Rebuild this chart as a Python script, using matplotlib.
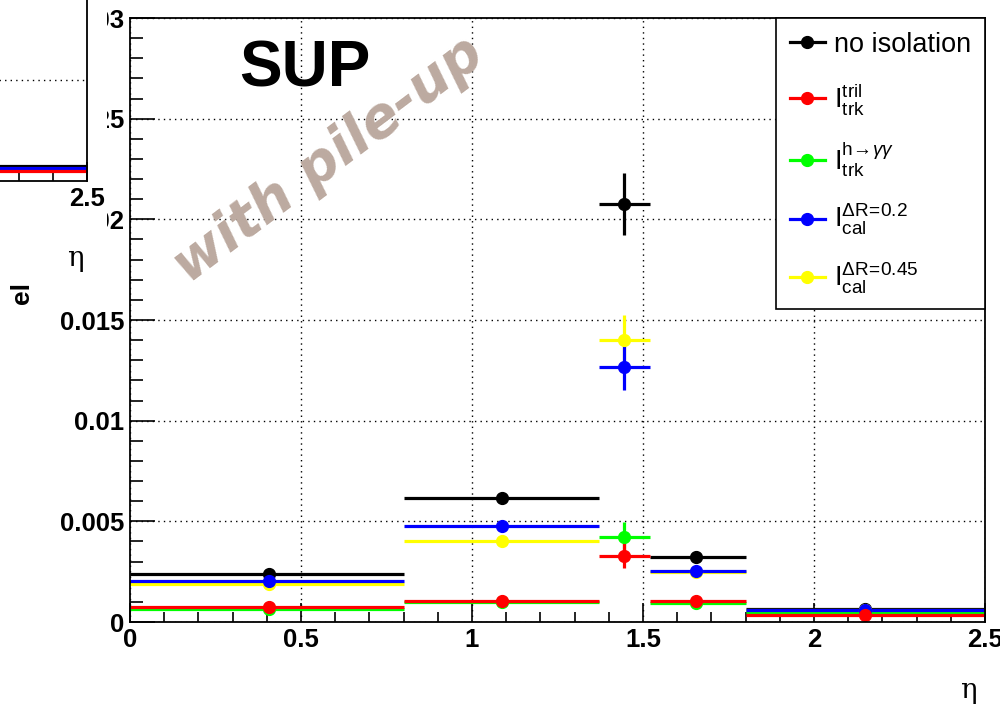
import matplotlib
matplotlib.use("Agg")
import matplotlib.pyplot as plt
from matplotlib.lines import Line2D
from matplotlib.patches import Rectangle
from matplotlib.ticker import MultipleLocator
import numpy as np

plt.rcParams['font.family'] = ['Liberation Sans', 'DejaVu Sans']
plt.rcParams['mathtext.fontset'] = 'custom'
plt.rcParams['mathtext.rm'] = 'Liberation Sans'
plt.rcParams['mathtext.it'] = 'Liberation Sans:italic'
plt.rcParams['mathtext.default'] = 'regular'

# eta bins and weighted mean eta per bin
bin_lo = np.array([0.0, 0.8, 1.37, 1.52, 1.8])
bin_hi = np.array([0.8, 1.37, 1.52, 1.8, 2.5])
eta_mean = np.array([0.405, 1.087, 1.444, 1.654, 2.148])

# rates per series
no_iso = [0.00236, 0.00616, 0.02076, 0.00324, 0.00065]
no_iso_err = [0.00018, 0.00012, 0.00155, 0.00030, 0.00005]
tril = [0.00076, 0.00104, 0.00330, 0.00104, 0.00037]
tril_err = [0.00015, 0.00010, 0.00060, 0.00010, 0.00005]
hgg = [0.00064, 0.00100, 0.00424, 0.00093, 0.00048]
hgg_err = [0.00015, 0.00010, 0.00075, 0.00010, 0.00005]
cal02 = [0.00204, 0.00477, 0.01267, 0.00255, 0.00062]
cal02_err = [0.00015, 0.00012, 0.00115, 0.00020, 0.00005]
cal045 = [0.00187, 0.00402, 0.01402, 0.00248, 0.00060]
cal045_err = [0.00018, 0.00012, 0.00125, 0.00020, 0.00005]

xticks = [0, 0.5, 1, 1.5, 2, 2.5]
xtick_labels = ['0', '0.5', '1', '1.5', '2', '2.5']
yticks = [0, 0.005, 0.01, 0.015, 0.02, 0.025, 0.03]
ytick_labels = ['0', '0.005', '0.01', '0.015', '0.02', '0.025', '0.03']

# the partly visible second plot (top-left corner), last bin only
inset_lo = [1.8]
inset_hi = [2.5]
inset_mean = [2.15]
inset_black = [0.00075]
inset_blue = [0.00067]
inset_red = [0.00050]

fig = plt.figure(figsize=(10, 7.12), dpi=100)
ax = fig.add_axes([0.13, 1 - 622/712, 0.855, 604/712], zorder=0)

series = [
    (no_iso, no_iso_err, 'black'),
    (cal045, cal045_err, '#ffff00'),
    (hgg, hgg_err, '#00ff00'),
    (cal02, cal02_err, '#0000ff'),
    (tril, tril_err, '#ff0000'),
]
for vals, errs, col in series:
    ax.errorbar(eta_mean, vals, xerr=[eta_mean - bin_lo, bin_hi - eta_mean], yerr=errs,
                fmt='o', color=col, ms=8.5, lw=2.3, capsize=0)

ax.set_xlim(0, 2.5)
ax.set_ylim(0, 0.03)
ax.set_xticks(xticks)
ax.set_xticklabels(xtick_labels)
ax.set_yticks(yticks)
ax.set_yticklabels(ytick_labels)
ax.xaxis.set_minor_locator(MultipleLocator(0.1))
ax.yaxis.set_minor_locator(MultipleLocator(0.001))
ax.tick_params(axis='both', which='both', direction='in', top=False, right=False,
               labelsize=18.5, width=1.2, pad=4)
ax.tick_params(axis='y', which='major', length=18)
ax.tick_params(axis='y', which='minor', length=9.5)
ax.tick_params(axis='x', which='major', length=14)
ax.tick_params(axis='x', which='minor', length=7.5)
for lab in ax.get_xticklabels() + ax.get_yticklabels():
    lab.set_fontweight('bold')
ax.grid(True, which='major', color='black', ls=(0, (1, 3)), lw=1)
for sp in ax.spines.values():
    sp.set_linewidth(1.3)

ax.text(1 - 17/855, -68/604, 'η', transform=ax.transAxes, ha='center', va='center',
        fontsize=20, family='DejaVu Serif')
fig.text(0.022, 1 - 293/712, 'el', rotation=90, ha='center', va='center',
         fontsize=19, fontweight='bold')

ax.text(0.205, 0.915, 'SUP', transform=ax.transAxes, ha='center', va='center',
        fontsize=46, fontweight='bold')
ax.text(0.232, 0.765, 'with pile-up', transform=ax.transAxes, ha='center', va='center',
        fontsize=40, fontweight='bold', fontstyle='italic', color='#bcaaa0',
        rotation=37, family='DejaVu Sans')

handles = [Line2D([], [], color=c, marker='o', ms=8.5, lw=2.3)
           for c in ['black', '#ff0000', '#00ff00', '#0000ff', '#ffff00']]
labels = ['no isolation',
          r'$I_{trk}^{tril}$',
          r'$I_{trk}^{h\!\rightarrow\!\mathit{\gamma\gamma}}$',
          r'$I_{cal}^{\Delta R\!=\!0.2}$',
          r'$I_{cal}^{\Delta R\!=\!0.45}$']
leg = ax.legend(handles, labels, loc='upper right', borderaxespad=0, fontsize=19.5,
                frameon=True, fancybox=False, edgecolor='black', framealpha=1,
                handlelength=1.3, handletextpad=0.35, labelspacing=0.85,
                borderpad=0.5, numpoints=1)
leg.get_frame().set_linewidth(1.2)

# white cover and the corner of the neighbouring plot
fig.patches.append(Rectangle((0, 1 - 270/712), 0.107, 270/712, transform=fig.transFigure,
                             facecolor='white', edgecolor='none', zorder=1))
ins = fig.add_axes([0.087 - 0.855, 1 - 181/712, 0.855, 604/712], zorder=2)
ins_x = np.array(inset_mean)
for vals, col in [(inset_black, 'black'), (inset_blue, '#0000ff'), (inset_red, '#ff0000')]:
    ins.errorbar(ins_x, vals, xerr=[ins_x - np.array(inset_lo), np.array(inset_hi) - ins_x],
                 fmt='none', color=col, lw=2.3, capsize=0)
ins.set_xlim(0, 2.5)
ins.set_ylim(0, 0.03)
ins.set_xticks([2.5])
ins.set_xticklabels(['2.5'])
ins.xaxis.set_minor_locator(MultipleLocator(0.1))
ins.set_yticks([0.005])
ins.set_yticklabels([])
ins.tick_params(axis='both', which='both', direction='in', top=False, right=False,
                labelsize=18.5, width=1.2, pad=4, left=False)
ins.tick_params(axis='x', which='major', length=14)
ins.tick_params(axis='x', which='minor', length=7.5)
for lab in ins.get_xticklabels():
    lab.set_fontweight('bold')
ins.grid(True, axis='y', which='major', color='black', ls=(0, (1, 3)), lw=1)
for sp in ins.spines.values():
    sp.set_linewidth(1.3)
ins.text(1 - 12/855, -77/604, 'η', transform=ins.transAxes, ha='center', va='center',
         fontsize=20, family='DejaVu Serif')

fig.savefig('out.png', dpi=100)
